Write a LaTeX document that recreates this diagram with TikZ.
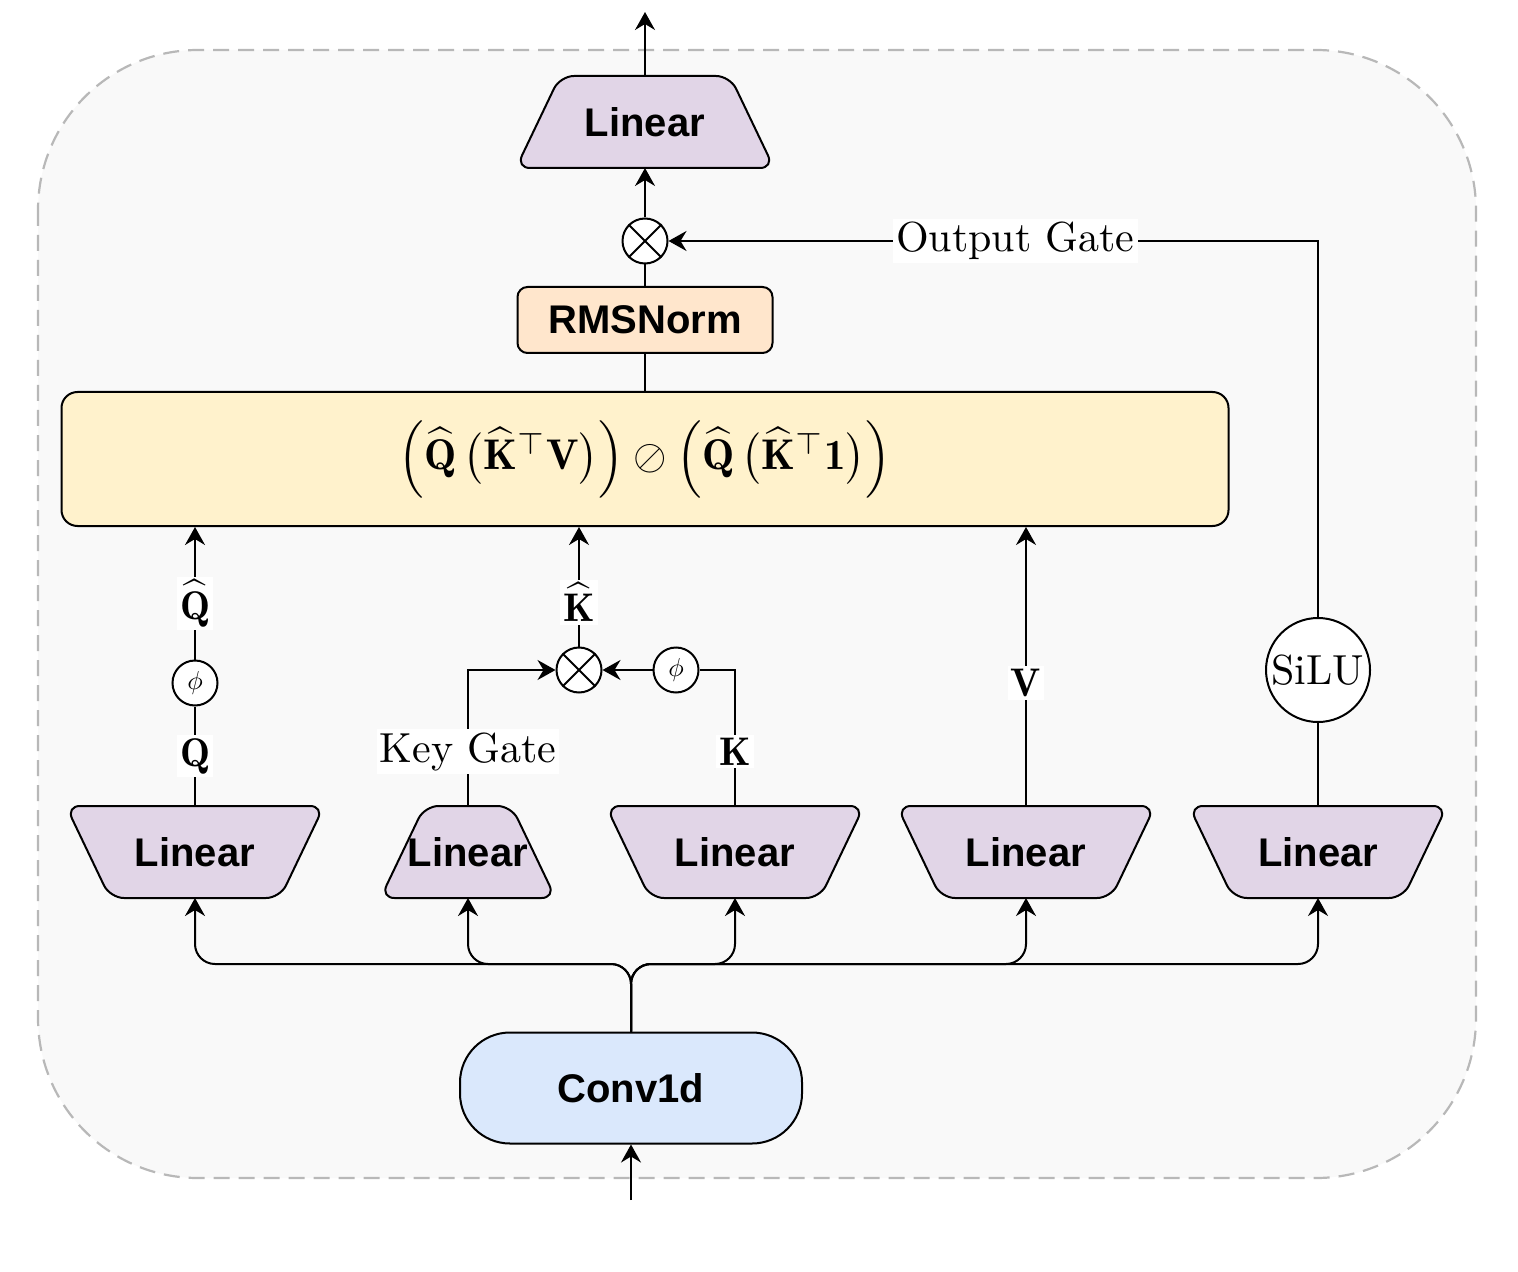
\RequirePackage{fix-cm}
\documentclass[tikz,border=0pt]{standalone}
\usepackage{fontspec}
\usepackage{graphicx}
\setsansfont{Liberation Sans}
\usetikzlibrary{arrows.meta,backgrounds}
\definecolor{linfill}{HTML}{E1D5E7}
\definecolor{rmsfill}{HTML}{FFE6CC}
\definecolor{mainfill}{HTML}{FFF2CC}
\definecolor{convfill}{HTML}{DAE8FC}
\definecolor{outfill}{HTML}{F9F9F9}
\definecolor{outline}{HTML}{B8B8B8}
\newcommand\lfnt{\sffamily\bfseries\fontsize{20}{24}\selectfont}
\newcommand\sert[1]{\scalebox{2.1}{\fontsize{10}{12}\selectfont #1}}
\newcommand\matht[2]{\scalebox{#1}{\fontsize{10}{12}\selectfont $#2$}}
\begin{document}
\begin{tikzpicture}[x=0.5pt,y=-0.5pt,line width=1pt,
  lin/.style={inner sep=0pt, minimum width=128pt, minimum height=45pt, font=\lfnt},
  linshape/.style={draw, fill=linfill, line width=1pt, rounded corners=7pt},
  circ/.style={circle, draw, fill=white, minimum size=22.5pt, inner sep=0pt},
  lab/.style={fill=white, inner sep=1.5pt},
  arr/.style={-{Stealth[length=9pt,width=10pt,inset=3pt]}}]
\useasboundingbox (0,0) rectangle (1518,1272);

\node[lin] (top) at (645,122) {Linear};
\coordinate (out) at (645,12);
\node[circ] (om) at (645,241) {};
\draw (om.north west) -- (om.south east) (om.north east) -- (om.south west);
\node[draw, fill=rmsfill, minimum width=127.5pt, minimum height=33pt, rounded corners=5pt, font=\lfnt, inner sep=0pt] (rms) at (645,320) {RMSNorm};
\node[draw, fill=mainfill, minimum width=583.5pt, minimum height=67pt, rounded corners=8pt] (main) at (645,459)
  {\matht{2.15}{\left(\widehat{\mathbf{Q}}\,\bigl(\widehat{\mathbf{K}}^{\top}\mathbf{V}\bigr)\right)\oslash\left(\widehat{\mathbf{Q}}\,\bigl(\widehat{\mathbf{K}}^{\top}\mathbf{1}\bigr)\right)}};

\node[lin] (lq) at (195,852) {Linear};
\node[lin, minimum width=86.5pt] (lg) at (468,852) {\makebox[0pt]{Linear}};
\node[lin] (lk) at (735,852) {Linear};
\node[lin] (lv) at (1026,852) {Linear};
\node[lin] (ls) at (1318,852) {Linear};

\begin{scope}[on background layer, line width=1pt]
\draw[draw=outline, fill=outfill, line width=1.1pt, dash pattern=on 8pt off 4.5pt, rounded corners=80pt] (38,50) rectangle (1476,1178);
\foreach \n in {top,lg}
  \draw[linshape] (\n.south west) -- (\n.south east) -- ([xshift=-22pt]\n.north east) -- ([xshift=22pt]\n.north west) -- cycle;
\foreach \n in {lq,lk,lv,ls}
  \draw[linshape] (\n.north west) -- (\n.north east) -- ([xshift=-22pt]\n.south east) -- ([xshift=22pt]\n.south west) -- cycle;
\end{scope}

\node[circ] (phq) at (195,683) {\matht{1.3}{\phi}};
\node[circ] (ok) at (579,670) {};
\draw (ok.north west) -- (ok.south east) (ok.north east) -- (ok.south west);
\node[circ] (phk) at (676,670) {\matht{1.3}{\phi}};
\node[circle, draw, fill=white, minimum size=52pt, inner sep=0pt] (silu) at (1318,670) {\sert{SiLU}};
\node[draw, fill=convfill, minimum width=171pt, minimum height=55.5pt, rounded corners=25pt, font=\lfnt] (conv) at (631,1088) {Conv1d};
\coordinate (in) at (631,1200);
\coordinate (sp) at (631,964);

\draw[arr] (top.north) -- (out);
\draw[arr] (om.north) -- (top.south);
\draw (rms.north) -- (om.south);
\draw (main.north) -- (rms.south);
\draw (ls.north) -- (silu.south);
\draw[arr] (silu.north) |- (om.east) node[lab, pos=0.733] {\sert{Output Gate}};
\draw (lq.north) -- (phq.south) node[lab, midway] {\matht{2}{\mathbf{Q}}};
\draw[arr] (phq.north) -- (phq.north |- main.south) node[lab, pos=0.425] {\matht{2}{\widehat{\mathbf{Q}}}};
\draw[arr] (lg.north) |- (ok.west) node[lab, pos=0.2] {\sert{Key Gate}};
\draw (lk.north) |- (phk.east) node[lab, pos=0.2] {\matht{2}{\mathbf{K}}};
\draw[arr] (phk.west) -- (ok.east);
\draw[arr] (ok.north) -- (ok.north |- main.south) node[lab, pos=0.37] {\matht{2}{\widehat{\mathbf{K}}}};
\draw[arr] (lv.north) -- (lv.north |- main.south) node[lab, pos=0.44] {\matht{2}{\mathbf{V}}};
\draw[arr] (in) -- (conv.south);
\foreach \t in {lq,lg,lk,lv,ls} \draw[arr, rounded corners=10pt] (conv.north) -- (sp) -| (\t.south);
\end{tikzpicture}
\end{document}
